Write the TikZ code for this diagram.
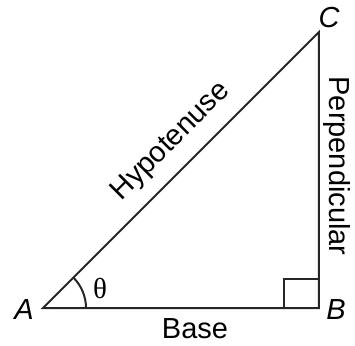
\documentclass[tikz,border=0pt]{standalone}
\usepackage{fontspec}
\setmainfont{Liberation Sans}
\newfontfamily\thetafont{Liberation Serif}
\usetikzlibrary{positioning, calc, angles}

\begin{document}
\begin{tikzpicture}[x=0.5pt, y=-0.5pt,
    side/.style={line width=1pt, black!85},
    vertex/.style={font=\fontsize{14.5}{17}\selectfont\itshape, inner sep=0pt},
    sidelabel/.style={font=\fontsize{14.5}{17}\selectfont, inner sep=0pt},
]
\useasboundingbox (0,0) rectangle (355,345);
\coordinate (A) at (43,308);
\coordinate (B) at (319,308);
\coordinate (C) at (319,32);
\draw[side] (A) -- (B) -- (C) -- cycle;
\pic[draw, side, angle radius=21.5pt] {angle=B--A--C};
\draw[side] ($(B)+(-35,0)$) -- ++(0,-29) -- ++(35,0);
\node[vertex] (lA) at (24,310) {A};
\node[vertex] (lB) at (336,310) {B};
\node[vertex] (lC) at (329,18) {C};
\node[font=\thetafont\fontsize{14.5}{17}\selectfont, inner sep=0pt] (theta) at (100,288) {θ};
\node[sidelabel] (base) at (195,328.5) {Base};
\node[sidelabel, rotate=45] (hyp) at (171,142) {Hypotenuse};
\node[sidelabel, rotate=-90] (perp) at (337,166) {Perpendicular};
\end{tikzpicture}
\end{document}
